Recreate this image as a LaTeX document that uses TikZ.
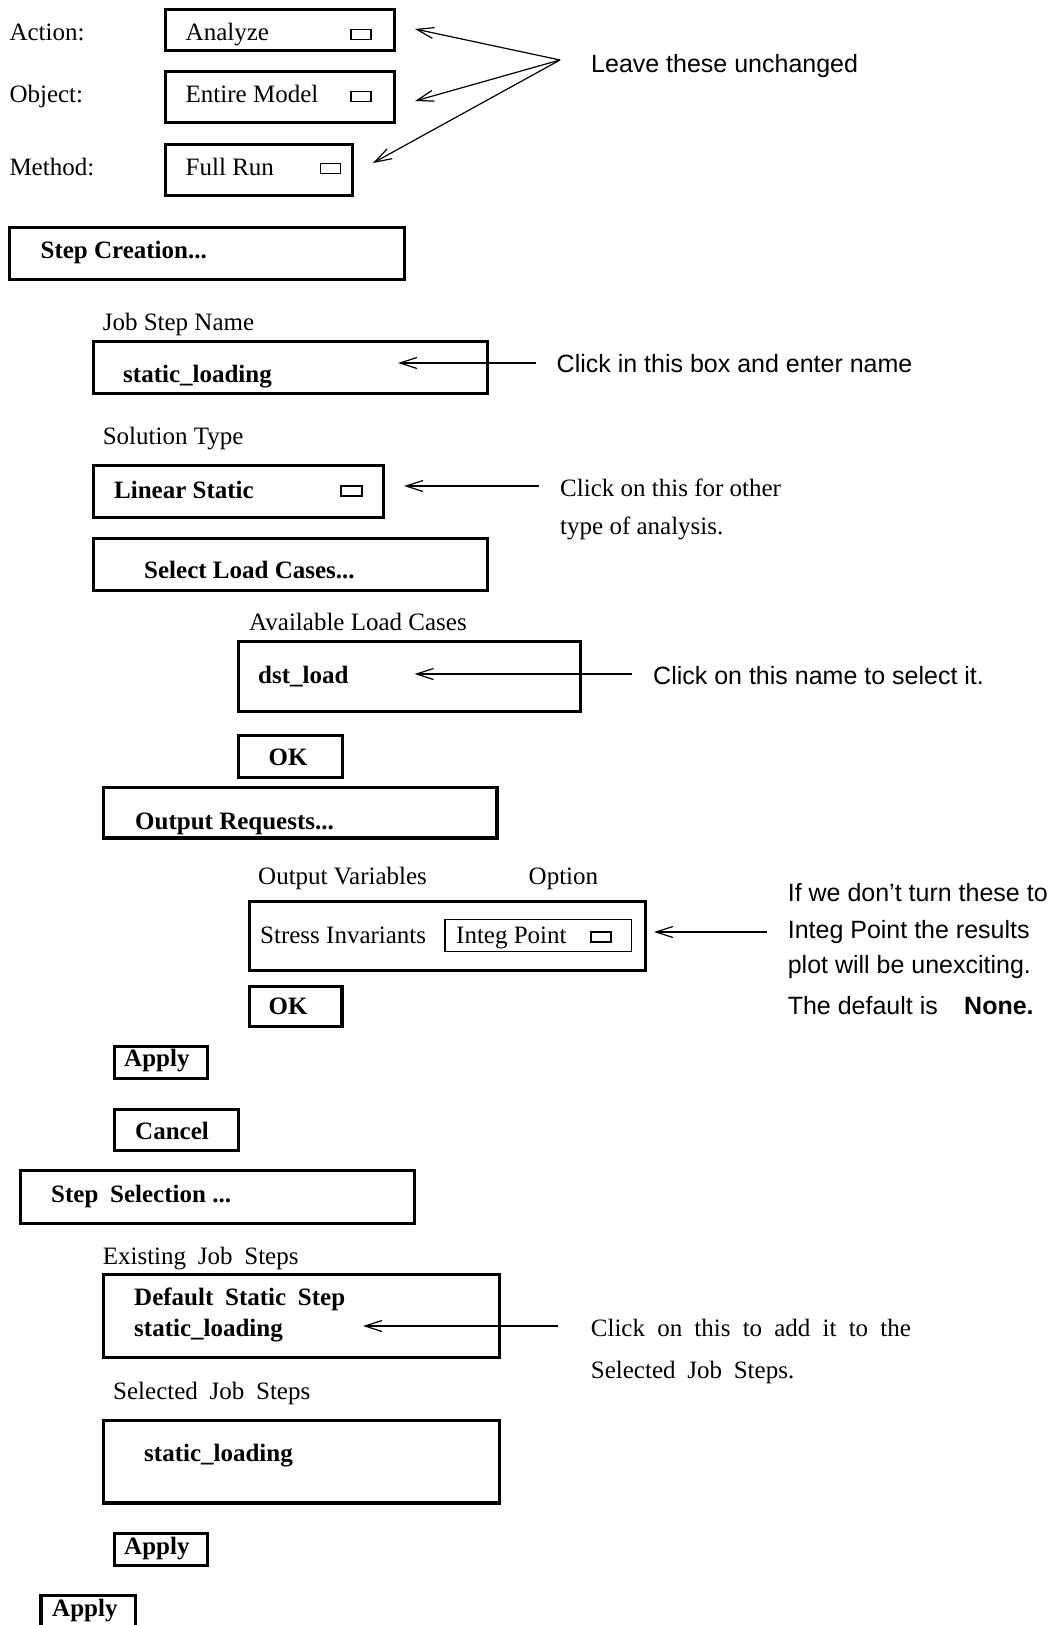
\documentclass[tikz,border=0pt]{standalone}
\usepackage{fontspec}
\setmainfont{Liberation Serif}
\setsansfont{Liberation Sans}
\usetikzlibrary{arrows.meta}
\newcommand\gap{\hspace{0.22em} }
\begin{document}
\begin{tikzpicture}[x=1pt,y=-1pt,
  frame/.style={draw, rectangle, line width=3.4pt, inner sep=0pt, outer sep=0pt, anchor=north west},
  thinframe/.style={draw, rectangle, line width=1.2pt, inner sep=0pt, outer sep=0pt, anchor=north west},
  txt/.style={anchor=base west, inner sep=0pt, font=\fontsize{25}{30}\selectfont},
  btxt/.style={anchor=base west, inner sep=0pt, font=\fontsize{25}{30}\selectfont\bfseries},
  stxt/.style={anchor=base west, inner sep=0pt, font=\fontsize{25}{30}\selectfont\sffamily},
  sbtxt/.style={anchor=base west, inner sep=0pt, font=\fontsize{25}{30}\selectfont\sffamily\bfseries},
  pointer/.style={line width=1.2pt, -{Straight Barb[length=17pt,width=11pt]}}]

\useasboundingbox (0,0) rectangle (1055,1625);
\clip (0,0) rectangle (1055,1625);
\fill[white] (0,0) rectangle (1055,1625);

% --- Action / Object / Method selectors
\node[txt] (lact) at (9.3,40) {Action:};
\node[frame, minimum width=228.5pt, minimum height=40.5pt] (act) at (165.75,9.75) {};
\node[txt] (vact) at (185.5,40) {Analyze};
\node[thinframe, minimum width=20pt, minimum height=10pt] (dact) at (351,29.5) {};

\node[txt] (lobj) at (9.3,102) {Object:};
\node[frame, minimum width=228.5pt, minimum height=50.5pt] (obj) at (165.75,71.75) {};
\node[txt] (vobj) at (185.5,102) {Entire Model};
\node[thinframe, minimum width=20pt, minimum height=10pt] (dobj) at (351,91.5) {};

\node[txt] (lmeth) at (9.3,175) {Method:};
\node[frame, minimum width=186.5pt, minimum height=50.5pt] (meth) at (165.75,144.75) {};
\node[txt] (vmeth) at (185.5,175) {Full Run};
\node[thinframe, minimum width=20pt, minimum height=10pt] (dmeth) at (320.5,163.5) {};

\node[stxt] (leave) at (591,72) {Leave these unchanged};
\coordinate (fan) at (560,60);
\coordinate (tact) at (415,29);
\coordinate (tobj) at (415,101);
\coordinate (tmeth) at (373,163);
\draw[pointer] (fan) -- (tact);
\draw[pointer] (fan) -- (tobj);
\draw[pointer] (fan) -- (tmeth);

% --- Step creation
\node[frame, minimum width=394.5pt, minimum height=51.5pt] (stepcr) at (9.75,227.75) {};
\node[btxt] (tstepcr) at (40.4,258) {Step Creation...};

\node[txt] (ljsn) at (102.6,330) {Job Step Name};
\node[frame, minimum width=393.5pt, minimum height=51.5pt] (jsn) at (93.75,341.75) {};
\node[btxt] (vjsn) at (123,382) {static\_loading};
\node[stxt] (njsn) at (556.5,372) {Click in this box and enter name};
\coordinate (tjsn) at (398,363);
\coordinate (sjsn) at (536,363);
\draw[pointer] (sjsn) -- (tjsn);

\node[txt] (lsol) at (102.6,444) {Solution Type};
\node[frame, minimum width=289.5pt, minimum height=51.5pt] (sol) at (93.75,465.75) {};
\node[btxt] (vsol) at (114,498) {Linear Static};
\node[thinframe, minimum width=21pt, minimum height=10pt] (dsol) at (341,486) {};
\node[txt] (nsol1) at (560,496) {Click on this for other};
\node[txt] (nsol2) at (560,534) {type of analysis.};
\coordinate (tsol) at (404,486);
\coordinate (ssol) at (539,486);
\draw[pointer] (ssol) -- (tsol);

\node[frame, minimum width=393.5pt, minimum height=51.5pt] (selload) at (93.75,538.75) {};
\node[btxt] (tselload) at (144,578) {Select Load Cases...};

\node[txt] (lavail) at (249,630) {Available Load Cases};
\node[frame, minimum width=341.5pt, minimum height=69.5pt] (avail) at (238.75,641.75) {};
\node[btxt] (vavail) at (258,683) {dst\_load};
\node[stxt] (navail) at (653,684) {Click on this name to select it.};
\coordinate (tavail) at (414.5,674);
\coordinate (savail) at (632,674);
\draw[pointer] (savail) -- (tavail);

\node[frame, minimum width=103.5pt, minimum height=41.5pt] (ok1) at (238.75,735.75) {};
\node[btxt, anchor=base] (tok1) at (288,765) {OK};

% --- Output requests
\node[frame, minimum width=393.5pt, minimum height=50.5pt] (outreq) at (103.5,787.5) {};
\node[btxt] (toutreq) at (135,829) {Output Requests...};

\node[txt] (lvar) at (258,884) {Output Variables};
\node[txt] (lopt) at (528.5,884) {Option};
\node[frame, minimum width=395.5pt, minimum height=69pt] (outvar) at (249.75,901.25) {};
\node[txt] (vvar) at (260,943) {Stress Invariants};
\node[thinframe, minimum width=186.5pt, minimum height=32pt] (integ) at (445,919.5) {};
\node[txt] (vinteg) at (456,943) {Integ Point};
\node[thinframe, minimum width=20pt, minimum height=10pt] (dinteg) at (591,932) {};
\node[stxt] (nvar1) at (787.6,901) {If we don’t turn these to};
\node[stxt] (nvar2) at (787.6,938) {Integ Point the results};
\node[stxt] (nvar3) at (787.6,973) {plot will be unexciting.};
\node[stxt] (nvar4) at (787.6,1014) {The default is};
\node[sbtxt] (nvar5) at (964,1014) {None.};
\coordinate (tvar) at (654,932);
\coordinate (svar) at (767,932);
\draw[pointer] (svar) -- (tvar);

\node[frame, minimum width=92.5pt, minimum height=40pt] (ok2) at (249.5,986.25) {};
\node[btxt, anchor=base] (tok2) at (288,1014) {OK};

\node[frame, minimum width=92.5pt, minimum height=32pt] (apply1) at (114.75,1046.35) {};
\node[btxt] (tapply1) at (124,1066) {Apply};
\node[frame, minimum width=123.5pt, minimum height=40.5pt] (cancel) at (114.75,1109.75) {};
\node[btxt] (tcancel) at (135,1139) {Cancel};

% --- Step selection
\node[frame, minimum width=394pt, minimum height=52.5pt] (stepsel) at (20.5,1170.75) {};
\node[btxt] (tstepsel) at (51,1202) {Step\gap Selection ...};

\node[txt] (lexist) at (102.6,1264) {Existing\gap Job\gap Steps};
\node[frame, minimum width=396pt, minimum height=83pt] (exist) at (103.5,1274.5) {};
\node[btxt] (vexist1) at (134,1305) {Default\gap Static\gap Step};
\node[btxt] (vexist2) at (134,1336) {static\_loading};
\node[txt] (nexist1) at (590.7,1336) {\makebox[320pt][s]{Click on this to add it to the}};
\node[txt] (nexist2) at (590.7,1378) {Selected\gap Job\gap Steps.};
\coordinate (texist) at (363,1326);
\coordinate (sexist) at (557.5,1326);
\draw[pointer] (sexist) -- (texist);

\node[txt] (lsel) at (113,1399) {Selected\gap Job\gap Steps};
\node[frame, minimum width=396pt, minimum height=82.5pt] (selected) at (103.5,1420.5) {};
\node[btxt] (vsel) at (144,1461) {static\_loading};

\node[frame, minimum width=92.5pt, minimum height=32pt] (apply2) at (114.75,1533.5) {};
\node[btxt] (tapply2) at (124,1554) {Apply};

\node[frame, minimum width=94.5pt, minimum height=42pt] (apply3) at (41,1595.75) {};
\node[btxt] (tapply3) at (52,1616) {Apply};
\end{tikzpicture}
\end{document}
